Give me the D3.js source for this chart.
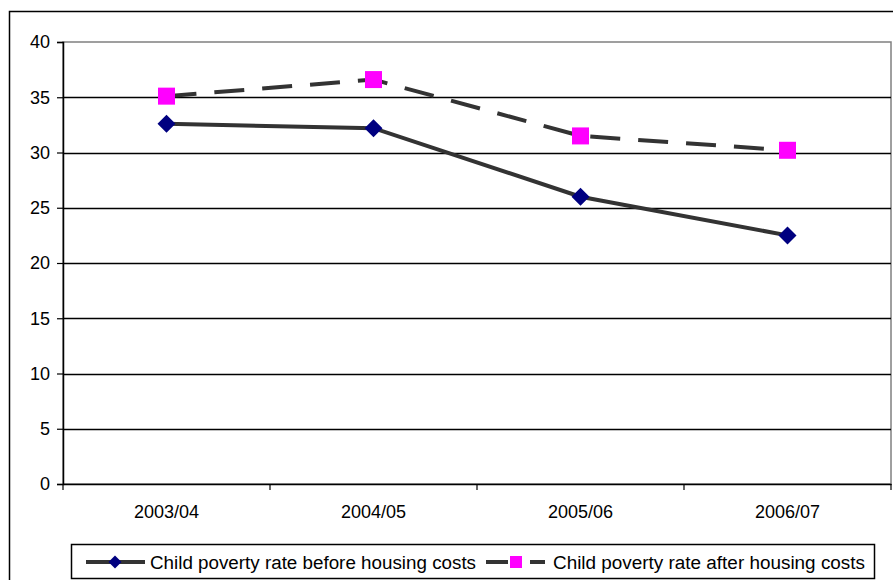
<!DOCTYPE html>
<html>
<head>
<meta charset="utf-8">
<script src="https://cdn.jsdelivr.net/npm/d3@7"></script>
<style>
  html, body { margin: 0; padding: 0; background: #fff; }
  svg { display: block; font-family: "Liberation Sans", Arial, sans-serif; }
</style>
</head>
<body>
<svg id="chart" width="893" height="580"></svg>
<script>
// Child poverty rates (%) by financial year
const years = ["2003/04", "2004/05", "2005/06", "2006/07"];
const beforeHousing = [32.6, 32.2, 26.0, 22.5];
const afterHousing = [35.1, 36.6, 31.5, 30.2];
const yTicks = [0, 5, 10, 15, 20, 25, 30, 35, 40];
const seriesNames = [
  "Child poverty rate before housing costs",
  "Child poverty rate after housing costs"
];

const svg = d3.select("#chart");
const plot = { left: 63, right: 891, top: 42, bottom: 484 };
const FONT = "Liberation Sans, Arial, sans-serif";

const x = d3.scaleBand().domain(years).range([plot.left, plot.right]);
const y = d3.scaleLinear().domain([0, 40]).range([plot.bottom, plot.top]);
const crisp = v => Math.round(v) + 0.5;

// outer chart frame
svg.append("rect")
  .attr("x", 9.5).attr("y", 11.5)
  .attr("width", 900).attr("height", 600)
  .attr("fill", "#fff").attr("stroke", "#000").attr("stroke-width", 1.5);

// plot area border
svg.append("rect")
  .attr("x", plot.left).attr("y", plot.top)
  .attr("width", plot.right - plot.left).attr("height", plot.bottom - plot.top)
  .attr("fill", "none").attr("stroke", "#808080").attr("stroke-width", 1.5);

// horizontal gridlines
svg.append("g").selectAll("line")
  .data(yTicks.filter(d => d > 0 && d < 40))
  .join("line")
  .attr("x1", plot.left).attr("x2", plot.right)
  .attr("y1", d => crisp(y(d))).attr("y2", d => crisp(y(d)))
  .attr("stroke", "#000").attr("stroke-width", 1.3);

// y axis
const yAxis = svg.append("g")
  .attr("transform", `translate(${plot.left},0)`)
  .call(d3.axisLeft(y).tickValues(yTicks).tickSize(6).tickPadding(7).tickFormat(d3.format("d")));
yAxis.select(".domain").attr("stroke", "#000").attr("stroke-width", 1.5);
yAxis.selectAll(".tick line").attr("stroke", "#000").attr("stroke-width", 1.2);
yAxis.selectAll(".tick text").attr("font-size", 18).attr("fill", "#000")
  .attr("font-family", FONT);

// x axis with ticks at category boundaries
const xAxis = svg.append("g")
  .attr("transform", `translate(0,${plot.bottom})`)
  .call(d3.axisBottom(x).tickSize(0).tickPadding(21));
xAxis.select(".domain").attr("stroke", "#000").attr("stroke-width", 1.5);
xAxis.selectAll(".tick text").attr("font-size", 18).attr("fill", "#000")
  .attr("font-family", FONT);
const boundaries = years.map(d => x(d)).concat([x(years[years.length - 1]) + x.bandwidth()]);
xAxis.selectAll("line.bound")
  .data(boundaries)
  .join("line")
  .attr("class", "bound")
  .attr("x1", d => d).attr("x2", d => d)
  .attr("y1", 0).attr("y2", 6)
  .attr("stroke", "#000").attr("stroke-width", 1.2);

const cx = d => x(d) + x.bandwidth() / 2;
const line = d3.line().x(d => cx(d.year)).y(d => y(d.value));
const beforeData = years.map((yr, i) => ({ year: yr, value: beforeHousing[i] }));
const afterData = years.map((yr, i) => ({ year: yr, value: afterHousing[i] }));

// after housing costs: dashed line with magenta squares
svg.append("path")
  .datum(afterData)
  .attr("d", line)
  .attr("fill", "none").attr("stroke", "#333").attr("stroke-width", 4)
  .attr("stroke-dasharray", "30,18");

// before housing costs: solid line with navy diamonds
svg.append("path")
  .datum(beforeData)
  .attr("d", line)
  .attr("fill", "none").attr("stroke", "#333").attr("stroke-width", 4);

const diamond = s => `M0,${-s}L${s},0L0,${s}L${-s},0Z`;

svg.append("g").selectAll("path")
  .data(beforeData)
  .join("path")
  .attr("transform", d => `translate(${cx(d.year)},${y(d.value)})`)
  .attr("d", diamond(9))
  .attr("fill", "#000080");

svg.append("g").selectAll("rect")
  .data(afterData)
  .join("rect")
  .attr("x", d => cx(d.year) - 8.5).attr("y", d => y(d.value) - 8.5)
  .attr("width", 17).attr("height", 17)
  .attr("fill", "#ff00ff");

// legend
const legend = svg.append("g");
legend.append("rect")
  .attr("x", 71.5).attr("y", 544.5).attr("width", 803).attr("height", 34)
  .attr("fill", "#fff").attr("stroke", "#000").attr("stroke-width", 1.5);

const ly = 562;
legend.append("line")
  .attr("x1", 86).attr("x2", 145).attr("y1", ly).attr("y2", ly)
  .attr("stroke", "#333").attr("stroke-width", 4);
legend.append("path")
  .attr("transform", `translate(115,${ly})`)
  .attr("d", diamond(6.5)).attr("fill", "#000080");
legend.append("text")
  .attr("x", 150).attr("y", ly + 6.5)
  .attr("font-size", 18).attr("fill", "#000")
  .attr("textLength", 326).attr("lengthAdjust", "spacingAndGlyphs")
  .text(seriesNames[0]);

legend.append("line")
  .attr("x1", 486).attr("x2", 545).attr("y1", ly).attr("y2", ly)
  .attr("stroke", "#333").attr("stroke-width", 4)
  .attr("stroke-dasharray", "22,22");
legend.append("rect")
  .attr("x", 510).attr("y", ly - 6).attr("width", 12).attr("height", 12)
  .attr("fill", "#ff00ff");
legend.append("text")
  .attr("x", 553).attr("y", ly + 6.5)
  .attr("font-size", 18).attr("fill", "#000")
  .attr("textLength", 312).attr("lengthAdjust", "spacingAndGlyphs")
  .text(seriesNames[1]);
</script>
</body>
</html>
